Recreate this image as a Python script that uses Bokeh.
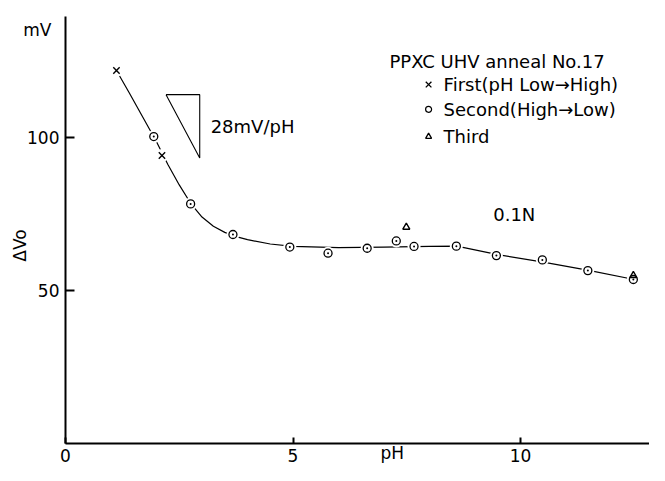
from bokeh.plotting import figure
from bokeh.models import Label, FixedTicker, Range1d, LinearAxis
from bokeh.embed import file_html
from bokeh.resources import INLINE

# ---- data ----
first_ph = [1.12, 2.12]
first_mv = [121.9, 94.1]
second_ph = [1.94, 2.75, 3.68, 4.93, 5.77, 6.63, 7.27, 7.66, 8.59, 9.47, 10.48, 11.48, 12.48]
second_mv = [100.3, 78.3, 68.3, 64.2, 62.2, 63.8, 66.2, 64.4, 64.5, 61.4, 60.0, 56.5, 53.6]
third_ph = [7.49, 12.48]
third_mv = [70.7, 54.9]
curve_ph = [1.12, 1.4, 1.7, 2.0, 2.25, 2.5, 2.75, 3.0, 3.25, 3.5, 3.75, 4.0, 4.5, 5.0,
            6.0, 7.0, 8.0, 8.6, 9.5, 10.5, 11.5, 12.5]
curve_mv = [121.9, 114.6, 106.6, 98.6, 91.2, 84.5, 78.5, 74.0, 71.0, 69.0, 67.6, 66.6, 65.2, 64.4,
            64.0, 64.2, 64.4, 64.5, 61.7, 59.3, 56.6, 53.6]
slope_ph = [2.21, 2.95, 2.95, 2.21]
slope_mv = [114.0, 114.0, 93.3, 114.0]
x_ticks = [0, 5, 10]
y_ticks = [50, 100]

FONT = "DejaVu Sans"
W, H = 649, 465

p = figure(width=W, height=H, x_range=Range1d(-1.4286, 12.835), y_range=Range1d(-7.19, 144.77),
           x_axis_location=None, y_axis_location=None,
           output_backend="svg", toolbar_location=None,
           min_border_left=0, min_border_right=0, min_border_top=0, min_border_bottom=0)
p.outline_line_color = None
p.xgrid.visible = False
p.ygrid.visible = False
p.background_fill_color = "white"

xax = LinearAxis(fixed_location=0, bounds=(0, 12.835), ticker=FixedTicker(ticks=x_ticks))
yax = LinearAxis(fixed_location=0, bounds=(0, 139.5), ticker=FixedTicker(ticks=y_ticks))
for ax in (xax, yax):
    ax.axis_line_width = 2
    ax.axis_line_color = "black"
    ax.major_tick_line_width = 2
    ax.major_tick_line_color = "black"
    ax.major_tick_out = 0
    ax.minor_tick_line_color = None
    ax.major_label_text_font = FONT
    ax.major_label_text_font_size = "17px"
    ax.major_label_text_color = "black"
xax.major_tick_in = 6
xax.major_label_standoff = 6
yax.major_tick_in = 9
yax.major_label_standoff = 6
p.add_layout(xax, "below")
p.add_layout(yax, "left")

# fitted curve
p.line(curve_ph, curve_mv, line_color="black", line_width=1.2)

# white halos -> gaps in the line near the markers
all_ph = first_ph + second_ph + third_ph
all_mv = first_mv + second_mv + third_mv
p.scatter(all_ph, all_mv, marker="circle", size=13, fill_color="white", line_color=None)

p.scatter(second_ph, second_mv, marker="circle_dot", size=8, fill_color="white",
          line_color="black", line_width=1.3)
p.scatter(first_ph, first_mv, marker="x", size=9, line_color="black", line_width=1.4)
p.scatter(third_ph, third_mv, marker="triangle", size=7, fill_color=None,
          line_color="black", line_width=1.4)

# slope triangle
p.line(slope_ph, slope_mv, line_color="black", line_width=1.1)

def lab(x, y, t, size="18px", angle=0, align="left"):
    p.add_layout(Label(x=x, y=y, text=t, text_font=FONT, text_font_size=size,
                       text_baseline="middle", text_align=align, angle=angle,
                       text_color="black"))

lab(3.19, 103.6, "28mV/pH")
lab(9.40, 74.8, "0.1N")
lab(-0.62, 135.0, "mV", size="17px", align="center")
lab(-0.99, 64.7, "ΔVo", size="17px", angle=1.5708, align="center")
lab(7.18, -3.0, "pH", size="17px", align="center")

# legend block
lab(7.12, 124.9, "PPXC UHV anneal No.17")
leg_x = 7.98
leg_y = [117.3, 109.2, 100.3]
leg_txt = ["First(pH Low→High)", "Second(High→Low)", "Third"]
p.scatter([leg_x], [leg_y[0]], marker="x", size=8, line_color="black", line_width=1.3)
p.scatter([leg_x], [leg_y[1]], marker="circle", size=6, fill_color="white",
          line_color="black", line_width=1.2)
p.scatter([leg_x], [leg_y[2]], marker="triangle", size=6, fill_color=None,
          line_color="black", line_width=1.3)
for yv, t in zip(leg_y, leg_txt):
    lab(8.31, yv, t)

open("out.html", "w").write(file_html(p, INLINE))
